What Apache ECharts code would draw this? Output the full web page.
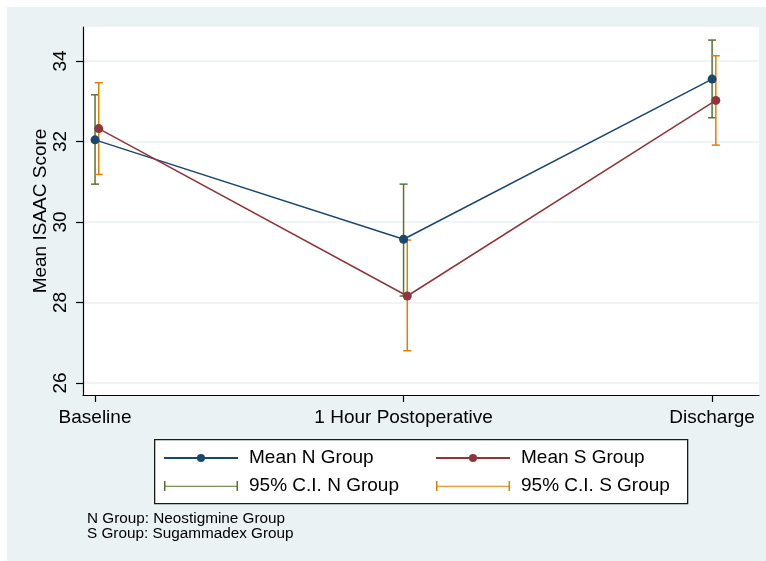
<!DOCTYPE html>
<html>
<head>
<meta charset="utf-8">
<script src="https://cdn.jsdelivr.net/npm/echarts@6/dist/echarts.min.js"></script>
<style>
  html, body { margin: 0; padding: 0; background: #ffffff; }
  #chart { position: absolute; left: 7px; top: 7px; width: 759px; height: 554px; }
</style>
</head>
<body>
<div id="chart"></div>
<script>
// ---- data ----
const categories = ['Baseline', '1 Hour Postoperative', 'Discharge'];
const meanN = [32.04, 29.57, 33.55];
const meanS = [32.32, 28.16, 33.02];
const ciNLow = [30.94, 28.16, 32.59];
const ciNHigh = [33.16, 30.94, 34.52];
const ciSLow = [31.18, 26.80, 31.91];
const ciSHigh = [33.46, 29.55, 34.13];
const yTicks = [26, 28, 30, 32, 34];
const xTicks = [0, 1, 2];
const noteLines = ['N Group: Neostigmine Group', 'S Group: Sugammadex Group'];

// ---- styling ----
const FONT = 'Liberation Sans, Arial, Helvetica, sans-serif';
const C_N = '#1a476f', C_S = '#90353b', C_CIN = '#55752f', C_CIS = '#e37e00';
const BG = '#eaf2f3';
const S_OFFSET = 0.012;

const dataMeanN = meanN.map((v, i) => [i, v]);
const dataMeanS = meanS.map((v, i) => [i + S_OFFSET, v]);
const dataCIN = ciNLow.map((v, i) => [i, v, ciNHigh[i]]);
const dataCIS = ciSLow.map((v, i) => [i + S_OFFSET, v, ciSHigh[i]]);

function ciRenderer(color) {
  return function (params, api) {
    const x = api.value(0), lo = api.value(1), hi = api.value(2);
    const p1 = api.coord([x, lo]);
    const p2 = api.coord([x, hi]);
    const cw = 4;
    const st = { stroke: color, lineWidth: 1.5, fill: null };
    return {
      type: 'group',
      children: [
        { type: 'line', shape: { x1: p1[0], y1: p1[1], x2: p2[0], y2: p2[1] }, style: st },
        { type: 'line', shape: { x1: p1[0] - cw, y1: p1[1], x2: p1[0] + cw, y2: p1[1] }, style: st },
        { type: 'line', shape: { x1: p2[0] - cw, y1: p2[1], x2: p2[0] + cw, y2: p2[1] }, style: st }
      ]
    };
  };
}

const ciIcon = 'path://M0,0H1.5V4.25H72.5V0H74V9H72.5V5.25H1.5V9H0Z';

const chart = echarts.init(document.getElementById('chart'), null, { renderer: 'canvas' });
const legendCommon = {
  orient: 'vertical',
  top: 441.5,
  padding: 0,
  itemWidth: 74,
  itemHeight: 10,
  itemGap: 9,
  symbolKeepAspect: false,
  selectedMode: false,
  textStyle: { fontFamily: FONT, fontSize: 19, color: '#000', lineHeight: 19, padding: [0, 0, 0, 6] }
};

chart.setOption({
  backgroundColor: BG,
  animation: false,
  textStyle: { fontFamily: FONT },
  title: {
    text: noteLines.join('\n'),
    left: 80,
    top: 505,
    padding: 0,
    textStyle: { fontFamily: FONT, fontSize: 15.3, fontWeight: 'normal', color: '#000', lineHeight: 14.5 }
  },
  graphic: [{
    type: 'rect',
    left: 147, top: 432,
    shape: { width: 533, height: 64 },
    style: { fill: '#fff', stroke: '#1a1a1a', lineWidth: 1.3 },
    z: -1
  }],
  legend: [
    Object.assign({}, legendCommon, {
      left: 156,
      data: [{ name: 'Mean N Group' }, { name: '95% C.I. N Group', icon: ciIcon }]
    }),
    Object.assign({}, legendCommon, {
      left: 428,
      data: [{ name: 'Mean S Group' }, { name: '95% C.I. S Group', icon: ciIcon }]
    })
  ],
  grid: {
    left: 76, top: 20, right: 7, bottom: 166,
    show: true, backgroundColor: '#fff', borderWidth: 0
  },
  xAxis: {
    type: 'value',
    min: -0.039, max: 2.152,
    axisLine: { show: true, onZero: false, lineStyle: { color: '#000', width: 1.2 } },
    axisTick: { show: true, length: 7, customValues: xTicks, lineStyle: { color: '#000', width: 1.2 } },
    axisLabel: {
      customValues: xTicks,
      margin: 13,
      fontSize: 19, color: '#000', fontFamily: FONT,
      formatter: v => categories[Math.round(v)]
    },
    splitLine: { show: false }
  },
  yAxis: {
    type: 'value',
    min: 25.7, max: 34.845,
    name: 'Mean ISAAC Score',
    nameLocation: 'middle',
    nameGap: 33,
    nameMoveOverlap: false,
    nameTextStyle: { fontSize: 19, color: '#000', fontFamily: FONT },
    axisLine: { show: true, onZero: false, lineStyle: { color: '#000', width: 1.2 } },
    axisTick: { show: true, length: 7, customValues: yTicks, lineStyle: { color: '#000', width: 1.2 } },
    axisLabel: { customValues: yTicks, rotate: 90, margin: 13, fontSize: 19, color: '#000', fontFamily: FONT },
    splitLine: { show: true, lineStyle: { color: BG, width: 1.5 } }
  },
  series: [
    {
      name: '95% C.I. N Group', type: 'custom', renderItem: ciRenderer(C_CIN),
      itemStyle: { color: C_CIN }, encode: { x: 0, y: [1, 2] }, data: dataCIN, z: 2
    },
    {
      name: '95% C.I. S Group', type: 'custom', renderItem: ciRenderer(C_CIS),
      itemStyle: { color: C_CIS }, encode: { x: 0, y: [1, 2] }, data: dataCIS, z: 2
    },
    {
      name: 'Mean N Group', type: 'line', data: dataMeanN,
      symbol: 'circle', symbolSize: 9, showSymbol: true,
      itemStyle: { color: C_N }, lineStyle: { color: C_N, width: 1.5 }, z: 3
    },
    {
      name: 'Mean S Group', type: 'line', data: dataMeanS,
      symbol: 'circle', symbolSize: 9, showSymbol: true,
      itemStyle: { color: C_S }, lineStyle: { color: C_S, width: 1.5 }, z: 3
    }
  ]
});
</script>
</body>
</html>
